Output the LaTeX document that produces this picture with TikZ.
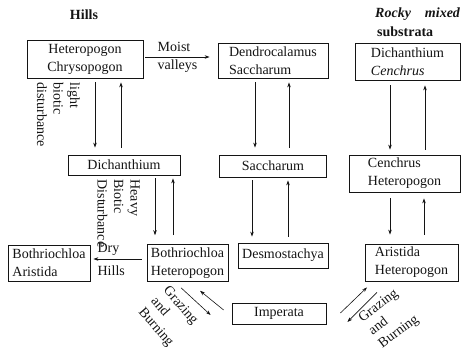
\documentclass[tikz,border=0pt]{standalone}
\usepackage{fontspec}
\setmainfont{Liberation Serif}
\usetikzlibrary{arrows.meta, positioning, calc}
\definecolor{ink}{RGB}{20,20,20}

\begin{document}
\fontsize{14}{18}\selectfont
\begin{tikzpicture}[
    x=1pt, y=-1pt,
    box/.style={rectangle, draw=ink, line width=0.8pt, inner sep=3pt, text=ink},
    arrow/.style={-{Stealth[length=5pt, width=3.5pt]}, line width=0.6pt, ink},
    label/.style={inner sep=0pt, text=ink},
    side/.style={label, font=\fontsize{14}{16.5}\selectfont, align=left},
]
\useasboundingbox (0,0) rectangle (465,350);

% Headings
\node[label, font=\bfseries] (hills) at (84,15) {Hills};
\node[label, anchor=west, font=\bfseries\itshape] (rocky) at (375,14) {Rocky\quad mixed};
\node[label, anchor=west, font=\bfseries] (subs) at (377,32) {substrata};

% Top row
\node[box, minimum width=116pt, minimum height=38pt, align=center] (hetchr) at (85,59) {Heteropogon\\Chrysopogon};
\node[box, minimum width=110pt, minimum height=35pt, align=left] (dendro) at (273,60.5) {Dendrocalamus\\Saccharum};
\node[box, minimum width=105pt, minimum height=37pt, align=left] (dichcen) at (407.5,61.5) {Dichanthium\\\textit{Cenchrus}};

% Middle row
\node[box, minimum width=112pt, minimum height=20pt] (dich) at (124,165) {Dichanthium};
\node[box, minimum width=107pt, minimum height=22pt] (sacch) at (273,166) {Saccharum};
\node[box, minimum width=111pt, minimum height=37pt, align=left] (cenhet) at (404.5,173.5) {Cenchrus\\Heteropogon};

% Bottom row
\node[box, minimum width=82pt, minimum height=36pt, align=left] (bothar) at (49,263) {Bothriochloa\\Aristida};
\node[box, minimum width=81pt, minimum height=36pt, align=left] (bothhet) at (187.5,263) {Bothriochloa\\Heteropogon};
\node[box, minimum width=90pt, minimum height=25pt] (desmo) at (283,255.5) {Desmostachya};
\node[box, minimum width=93pt, minimum height=37pt, align=left] (arihet) at (411.5,262.5) {Aristida\\Heteropogon};
\node[box, minimum width=94pt, minimum height=21pt] (imper) at (279,313.5) {Imperata};

% Disturbance labels
\node[side, rotate=-90, anchor=north west] (light) at ([xshift=-5pt,yshift=-4pt]hetchr.south) {light\\biotic\\disturbance};
\node[side, rotate=-90, anchor=north west] (heavy) at ([xshift=16pt,yshift=-4pt]dich.south) {Heavy\\Biotic\\Disturbance};

% Arrows
\draw[arrow] ([xshift=2pt,yshift=2pt]hetchr.east) -- node[label, align=left] {Moist\\valleys} ([xshift=-8pt,yshift=3.5pt]dendro.west);
\draw[arrow] ([xshift=10pt,yshift=-4pt]hetchr.south) -- ([xshift=-29pt,yshift=7pt]dich.north);
\draw[arrow] ([xshift=-3pt,yshift=7pt]dich.north) -- ([xshift=36pt,yshift=-4pt]hetchr.south);
\draw[arrow] ([xshift=-18pt,yshift=-4pt]dendro.south) -- ([xshift=-18pt,yshift=7pt]sacch.north);
\draw[arrow] ([xshift=16pt,yshift=7pt]sacch.north) -- ([xshift=16pt,yshift=-4pt]dendro.south);
\draw[arrow] ([xshift=-17.5pt,yshift=-5pt]dichcen.south) -- ([xshift=-14.5pt,yshift=5pt]cenhet.north);
\draw[arrow] ([xshift=20.5pt,yshift=5pt]cenhet.north) -- ([xshift=17.5pt,yshift=-5pt]dichcen.south);

\draw[arrow] ([xshift=31pt,yshift=-3pt]dich.south) -- ([xshift=-32.5pt,yshift=9pt]bothhet.north);
\draw[arrow] ([xshift=-14.5pt,yshift=9pt]bothhet.north) -- ([xshift=49pt,yshift=-3pt]dich.south);
\draw[arrow] ([xshift=-21pt,yshift=-3pt]sacch.south) -- ([xshift=-31pt,yshift=6pt]desmo.north);
\draw[arrow] ([xshift=5pt,yshift=6pt]desmo.north) -- ([xshift=15pt,yshift=-3pt]sacch.south);
\draw[arrow] ([xshift=-14.5pt,yshift=-6pt]cenhet.south) -- ([xshift=-21.5pt,yshift=9pt]arihet.north);
\draw[arrow] ([xshift=12.5pt,yshift=9pt]arihet.north) -- ([xshift=19.5pt,yshift=-6pt]cenhet.south);

\draw[arrow] ([xshift=-5pt,yshift=4pt]bothhet.west) -- node[label, align=left, pos=0.63] {Dry\\[5pt]Hills} ([xshift=3pt,yshift=4pt]bothar.east);

% Grazing and burning
\draw[arrow] ([xshift=-6.5pt,yshift=-6pt]bothhet.south) -- ([xshift=-21pt,yshift=-1.5pt]imper.west);
\draw[arrow] ([xshift=-8pt,yshift=3.5pt]imper.west) -- ([xshift=12.5pt,yshift=-9pt]bothhet.south);
\draw[arrow] ([xshift=14pt,yshift=0.5pt]imper.east) -- ([xshift=-44.5pt,yshift=-6pt]arihet.south);
\draw[arrow] ([xshift=-34.5pt,yshift=-11pt]arihet.south) -- ([xshift=21pt,yshift=-8.5pt]imper.east);
\node[side, rotate=-49] (grazl) at (168,317) {Grazing\\and\\Burning};
\node[side, rotate=37] (grazr) at (389,319) {Grazing\\and\\Burning};

\end{tikzpicture}
\end{document}
